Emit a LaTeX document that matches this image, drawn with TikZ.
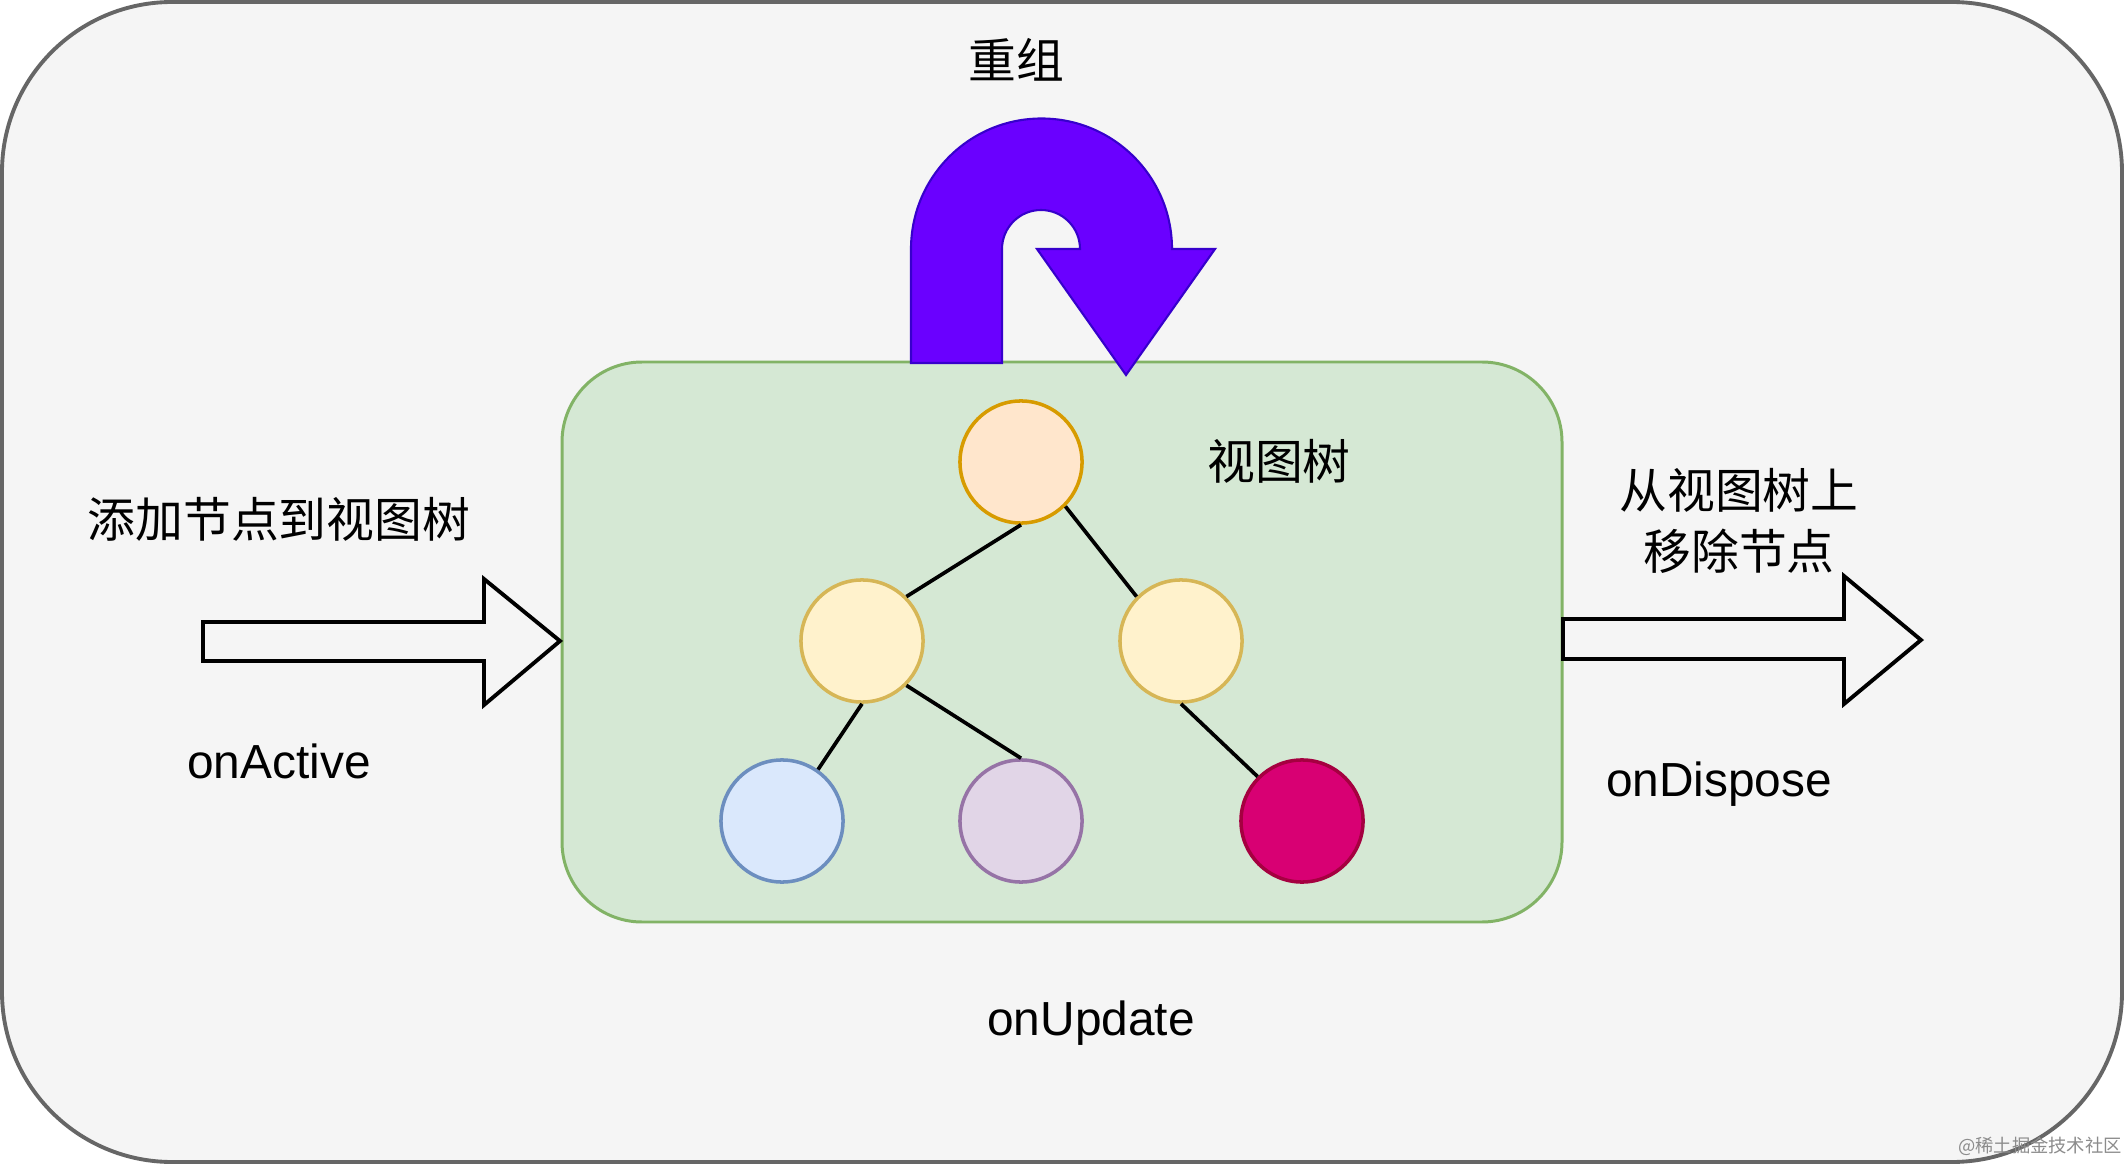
\documentclass[tikz,border=0pt]{standalone}
\usepackage{fontspec}
\setmainfont{Liberation Sans}
\newfontfamily\cjk{Noto Sans CJK SC}
\definecolor{bgfill}{HTML}{F5F5F5}
\definecolor{bgline}{HTML}{666666}
\definecolor{gfill}{HTML}{D5E8D4}
\definecolor{gline}{HTML}{82B366}
\definecolor{ofill}{HTML}{FFE6CC}
\definecolor{oline}{HTML}{D79B00}
\definecolor{yfill}{HTML}{FFF2CC}
\definecolor{yline}{HTML}{D6B656}
\definecolor{bfill}{HTML}{DAE8FC}
\definecolor{bline}{HTML}{6C8EBF}
\definecolor{pfill}{HTML}{E1D5E7}
\definecolor{pline}{HTML}{9673A6}
\definecolor{rfill}{HTML}{D80073}
\definecolor{rline}{HTML}{A50040}
\definecolor{ufill}{HTML}{6A00FF}
\definecolor{uline}{HTML}{3700CC}
\begin{document}
\begin{tikzpicture}[x=0.01cm,y=0.01cm,
  treenode/.style={circle,line width=1pt,minimum size=1.22cm,inner sep=0pt},
  treeedge/.style={line width=1.05pt,black},
  lbl/.style={inner sep=0pt,font=\fontsize{13.6pt}{17pt}\selectfont},
  cjklbl/.style={inner sep=0pt,font=\fontsize{13.6pt}{17.3pt}\selectfont\cjk,align=center},
  blockarrow/.style={draw=black,line width=1.1pt,line join=miter},
]
\useasboundingbox (0,0) rectangle (2124,-1164);
\fill[white] (0,0) rectangle (2124,-1164);
% outer frame
\draw[fill=bgfill,draw=bgline,line width=1.1pt,rounded corners=1.7cm] (2,-2) rectangle (2122,-1162);
% green box
\draw[fill=gfill,draw=gline,line width=0.85pt,rounded corners=0.8cm] (562,-362) rectangle (1562,-922);
% U-turn arrow
\draw[fill=ufill,draw=uline,line width=0.6pt,line join=miter]
  (911,-363) -- (911,-249) arc[start angle=180,end angle=0,radius=130.5]
  -- (1215,-249) -- (1126,-375) -- (1037,-249) -- (1080,-249)
  arc[start angle=0,end angle=180,radius=39] -- (1002,-363) -- cycle;
% block arrows
\draw[blockarrow] (203,-622) -- (484,-622) -- (484,-579) -- (560,-641) -- (484,-705) -- (484,-661) -- (203,-661) -- cycle;
\draw[blockarrow] (1563,-619) -- (1844,-619) -- (1844,-576) -- (1921,-640) -- (1844,-704) -- (1844,-659) -- (1563,-659) -- cycle;
% tree
\node[treenode,fill=ofill,draw=oline] (root) at (1021,-462) {};
\node[treenode,fill=yfill,draw=yline] (ml) at (862,-641) {};
\node[treenode,fill=yfill,draw=yline] (mr) at (1181,-641) {};
\node[treenode,fill=bfill,draw=bline] (bl) at (782,-821) {};
\node[treenode,fill=pfill,draw=pline] (bm) at (1021,-821) {};
\node[treenode,fill=rfill,draw=rline] (br) at (1302,-821) {};
\draw[treeedge] (root.south) -- (ml.45);
\draw[treeedge] (root.-45) -- (mr.135);
\draw[treeedge] (ml.south) -- (bl.55);
\draw[treeedge] (ml.-45) -- (bm.north);
\draw[treeedge] (mr.south) -- (br.135);
% labels
\node[cjklbl] (regroup) at (1016,-60) {重组};
\node[cjklbl] (treelbl) at (1279,-461) {视图树};
\node[cjklbl] (addlbl) at (279,-519) {添加节点到视图树};
\node[cjklbl] (removelbl) at (1739,-521) {从视图树上\\移除节点};
\node[lbl] (active) at (279,-761) {onActive};
\node[lbl] (dispose) at (1719,-784) {onDispose};
\node[lbl] (update) at (1091,-1023) {onUpdate};
\node[inner sep=0pt,text=black!45,font=\fontsize{5.2pt}{6pt}\selectfont\cjk] (wm) at (2040,-1146) {@稀土掘金技术社区};
\end{tikzpicture}
\end{document}
